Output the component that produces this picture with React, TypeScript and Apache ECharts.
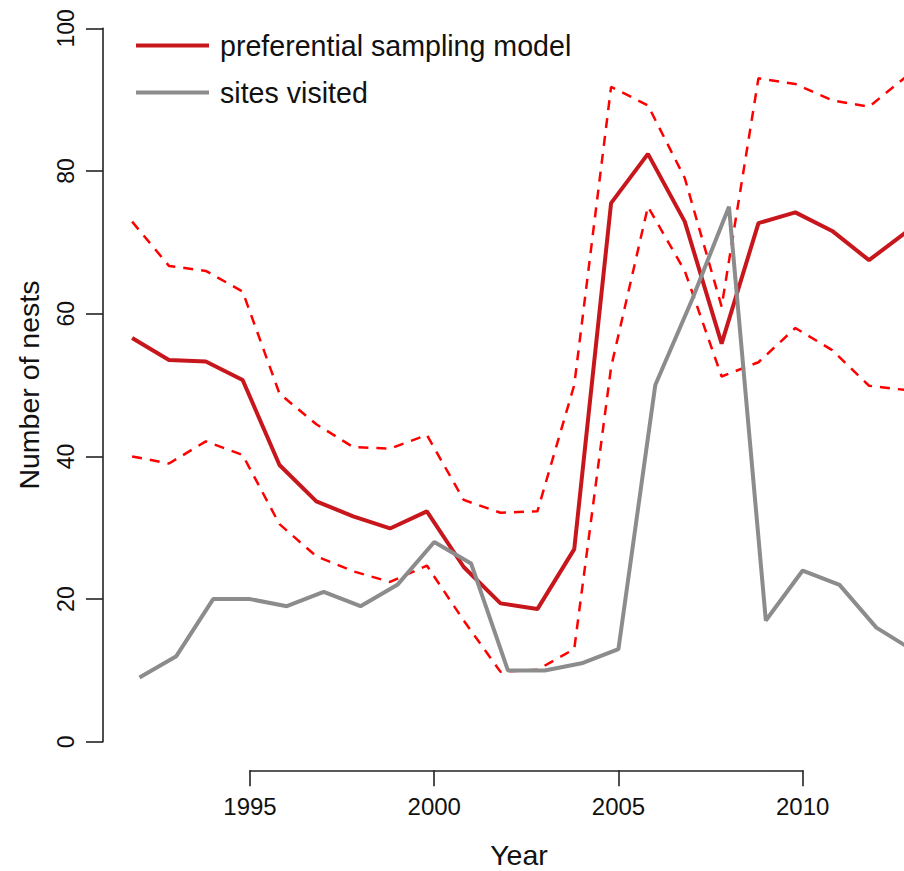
import React, { useEffect, useRef } from "react";
import * as echarts from "echarts";

// ---- data ----
const siteYears = [1992, 1993, 1994, 1995, 1996, 1997, 1998, 1999, 2000, 2001, 2002, 2003, 2004, 2005, 2006, 2007, 2008, 2009, 2010, 2011, 2012, 2013];
const sitesVisited = [9, 12, 20, 20, 19, 21, 19, 22, 28, 25, 10, 10, 11, 13, 50, 62, 75, 17, 24, 22, 16, 12.8];

// model estimates are plotted slightly left of each year in the original figure
const MODEL_YEAR_OFFSET = -0.2;
const modelMean = [56.6, 53.5, 53.3, 50.7, 38.8, 33.7, 31.6, 29.9, 32.3, 24.5, 19.4, 18.6, 27.0, 75.5, 82.4, 72.9, 55.8, 72.7, 74.2, 71.6, 67.5, 71.4];
const modelUpper = [72.9, 66.7, 66.0, 63.1, 48.8, 44.5, 41.3, 41.1, 43.0, 33.9, 32.1, 32.3, 50.0, 91.8, 89.2, 79.0, 61.0, 93.0, 92.2, 89.9, 89.0, 93.2];
const modelLower = [40.0, 39.0, 42.1, 40.2, 30.5, 26.0, 23.9, 22.4, 24.7, 17.0, 9.8, 10.1, 13.0, 52.5, 75.0, 66.0, 51.2, 53.2, 58.0, 54.9, 49.9, 49.3];

// visible x range of the plotting region (years) and the labelled x axis
const xView = { min: 1991.01, max: 2012.75 };
const xTicks = { min: 1995, max: 2010, interval: 5 };
const yTicks = { min: 0, max: 100, interval: 20 };

const LEGEND_MODEL = "preferential sampling model";
const LEGEND_SITES = "sites visited";

const FONT = "'Liberation Sans', Arial, Helvetica, sans-serif";
const TXT = "#111111";
const AXIS = "#222222";

const pairs = (ys: number[], vals: number[], off = 0) => ys.map((y, i) => [y + off, vals[i]]);

export default function App() {
  const ref = useRef<HTMLDivElement>(null);
  useEffect(() => {
    document.body.style.margin = "0";
    document.body.style.overflow = "hidden";
    if (!ref.current) return;
    const chart = echarts.init(ref.current, null, { renderer: "svg" });
    const dashed = {
      color: "#FF0000",
      width: 2.5,
      type: [10, 8] as any,
    };
    chart.setOption({
      animation: false,
      backgroundColor: "#ffffff",
      textStyle: { fontFamily: FONT },
      grid: [
        { left: 103, right: 0, top: 28.3, bottom: 129.2, containLabel: false },
        { left: 250, right: 101.3, top: 769.3, height: 1, containLabel: false },
      ],
      legend: {
        data: [LEGEND_MODEL, LEGEND_SITES],
        orient: "vertical",
        left: 136,
        top: 31,
        padding: 0,
        icon: "rect",
        itemWidth: 73,
        itemHeight: 4,
        itemGap: 18,
        selectedMode: false,
        textStyle: { fontSize: 28.6, color: TXT, fontFamily: FONT, lineHeight: 28, padding: [0, 0, 0, 6] },
      },
      xAxis: [
        {
          type: "value",
          gridIndex: 0,
          min: xView.min,
          max: xView.max,
          show: false,
        },
        {
          type: "value",
          gridIndex: 1,
          min: xTicks.min,
          max: xTicks.max,
          interval: xTicks.interval,
          position: "bottom",
          axisLine: { show: true, onZero: false, lineStyle: { color: AXIS, width: 1.6 } },
          axisTick: { show: true, length: 16, lineStyle: { color: AXIS, width: 1.6 } },
          axisLabel: { fontSize: 24, color: TXT, margin: 24, fontFamily: FONT, formatter: (v: number) => String(v) },
          splitLine: { show: false },
        },
      ],
      yAxis: [
        {
          type: "value",
          gridIndex: 0,
          min: yTicks.min,
          max: yTicks.max,
          interval: yTicks.interval,
          name: "Number of nests",
          nameLocation: "middle",
          nameGap: 60,
          nameTextStyle: { fontSize: 28.5, color: TXT, fontFamily: FONT },
          axisLine: { show: true, lineStyle: { color: AXIS, width: 1.6 } },
          axisTick: { show: true, length: 17, lineStyle: { color: AXIS, width: 1.6 } },
          axisLabel: { fontSize: 23, color: TXT, margin: 26, rotate: 90, fontFamily: FONT },
          splitLine: { show: false },
        },
        {
          type: "value",
          gridIndex: 1,
          show: false,
        },
      ],
      graphic: [
        {
          type: "text",
          x: 519,
          y: 855,
          style: {
            text: "Year",
            font: `28.5px ${FONT}`,
            fill: TXT,
            textAlign: "center",
            textVerticalAlign: "middle",
          },
        },
      ],
      series: [
        {
          name: "upper",
          type: "line",
          data: pairs(siteYears, modelUpper, MODEL_YEAR_OFFSET),
          showSymbol: false,
          lineStyle: dashed,
          itemStyle: { color: "#FF0000" },
          silent: true,
        },
        {
          name: "lower",
          type: "line",
          data: pairs(siteYears, modelLower, MODEL_YEAR_OFFSET),
          showSymbol: false,
          lineStyle: dashed,
          itemStyle: { color: "#FF0000" },
          silent: true,
        },
        {
          name: LEGEND_MODEL,
          type: "line",
          data: pairs(siteYears, modelMean, MODEL_YEAR_OFFSET),
          showSymbol: false,
          lineStyle: { color: "#C8171C", width: 4 },
          itemStyle: { color: "#C8171C" },
          silent: true,
        },
        {
          name: LEGEND_SITES,
          type: "line",
          data: pairs(siteYears, sitesVisited),
          showSymbol: false,
          lineStyle: { color: "#8C8C8C", width: 4 },
          itemStyle: { color: "#8C8C8C" },
          silent: true,
        },
      ],
    });
    return () => chart.dispose();
  }, []);
  return <div ref={ref} style={{ width: 904, height: 871 }} />;
}
